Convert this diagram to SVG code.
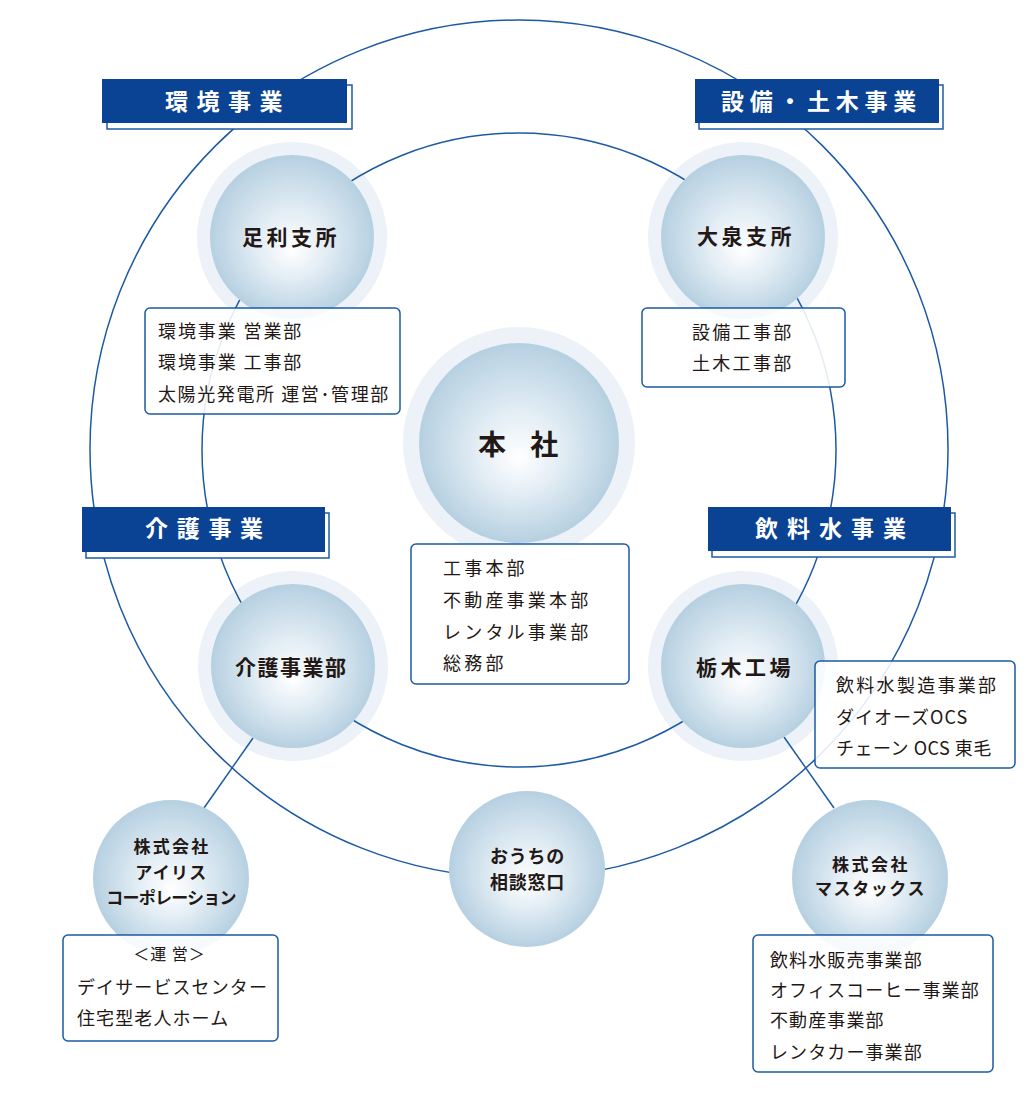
<svg xmlns="http://www.w3.org/2000/svg" width="1035" height="1100" viewBox="0 0 1035 1100">
<defs>
<radialGradient id="ball" cx="0.5" cy="0.5" r="0.5" fx="0.5" fy="0.58">
<stop offset="0" stop-color="#ffffff"/>
<stop offset="0.4" stop-color="#e4eef5"/>
<stop offset="1" stop-color="#b6d0e1"/>
</radialGradient>
<style>
.halo{fill:#ecf2f8}
.ball{fill:url(#ball)}
.conn{fill:none;stroke:#1d5aa5;stroke-width:1.5}
.box{fill:#ffffff;fill-opacity:0.88;stroke:#1d5aa5;stroke-width:1.5}
.tabbg{fill:#ffffff;stroke:#1d5aa5;stroke-width:1.5}
.tab{fill:#0b4394}
.tabt{font-family:"Noto Sans CJK JP","Noto Sans",sans-serif;font-size:23px;font-weight:700;fill:#ffffff}
.nt{font-family:"Noto Sans CJK JP","Noto Sans",sans-serif;font-size:21px;font-weight:700;fill:#231815}
.big{font-size:28px}
.st{font-family:"Noto Sans CJK JP","Noto Sans",sans-serif;font-size:17px;font-weight:700;fill:#231815}
.st18{font-size:18px}
.bt{font-family:"Noto Sans CJK JP","Noto Sans",sans-serif;font-size:18px;font-weight:400;fill:#231815}
.bt16{font-size:16px}
</style>
</defs>
<rect width="1035" height="1100" fill="#ffffff"/>

<g id="halos">
<circle class="halo" cx="292" cy="237" r="95"/>
<circle class="halo" cx="743" cy="237" r="95"/>
<circle class="halo" cx="519" cy="443" r="116"/>
<circle class="halo" cx="293" cy="666" r="95"/>
<circle class="halo" cx="743" cy="666" r="95"/>
</g>

<g id="connectors">
<circle class="conn" cx="519" cy="449" r="429"/>
<circle class="conn" cx="519" cy="450" r="317"/>
<line class="conn" x1="253" y1="738" x2="204" y2="808"/>
<line class="conn" x1="784" y1="737" x2="834" y2="808"/>
</g>

<g id="node-ashikaga">
<circle class="ball" cx="292" cy="237" r="82"/>
<text class="nt" x="242" y="244.5" letter-spacing="3.5">足利支所</text>
<rect class="box" x="145" y="308" width="255" height="106" rx="5"/>
<text class="bt" x="158" y="337.5" letter-spacing="1.9">環境事業 営業部</text>
<text class="bt" x="158" y="368.5" letter-spacing="1.9">環境事業 工事部</text>
<text class="bt" x="158" y="400.5" letter-spacing="1.6">太陽光発電所 運営･管理部</text>
</g>

<g id="node-oizumi">
<circle class="ball" cx="743" cy="237" r="82"/>
<text class="nt" x="697" y="244" letter-spacing="3.5">大泉支所</text>
<rect class="box" x="642" y="308" width="203" height="79" rx="5"/>
<text class="bt" x="692" y="338.5" letter-spacing="2.3">設備工事部</text>
<text class="bt" x="692" y="369.5" letter-spacing="2.3">土木工事部</text>
</g>

<g id="node-honsha">
<circle class="ball" cx="519" cy="443" r="100"/>
<text class="nt big" x="478" y="455" letter-spacing="9">本 社</text>
<rect class="box" x="411" y="544" width="218" height="140" rx="5"/>
<text class="bt" x="443" y="574.5" letter-spacing="3.2">工事本部</text>
<text class="bt" x="443" y="607" letter-spacing="3.2">不動産事業本部</text>
<text class="bt" x="443" y="638.5" letter-spacing="3.2">レンタル事業部</text>
<text class="bt" x="443" y="669.5" letter-spacing="3.2">総務部</text>
</g>

<g id="node-kaigo">
<circle class="ball" cx="293" cy="666" r="82"/>
<text class="nt" x="235" y="674.5" letter-spacing="1.5">介護事業部</text>
</g>

<g id="node-tochigi">
<circle class="ball" cx="743" cy="666" r="82"/>
<text class="nt" x="696" y="674.5" letter-spacing="3.5">栃木工場</text>
<rect class="box" x="815" y="661" width="200" height="107" rx="5"/>
<text class="bt" x="836" y="691.5" letter-spacing="2.3">飲料水製造事業部</text>
<text class="bt" x="836" y="723.5" letter-spacing="1">ダイオーズOCS</text>
<text class="bt" x="836" y="754.5" letter-spacing="0.5">チェーン OCS 東毛</text>
</g>

<g id="node-iris">
<circle class="ball" cx="171" cy="878" r="78"/>
<text class="st" x="172" y="853" text-anchor="middle" letter-spacing="2.3">株式会社</text>
<text class="st" x="171.5" y="879" text-anchor="middle" letter-spacing="1.3">アイリス</text>
<text class="st" x="171" y="904" text-anchor="middle" letter-spacing="-0.8">コーポレーション</text>
<rect class="box" x="63" y="935" width="215" height="106" rx="5"/>
<text class="bt bt16" x="169.5" y="959.5" text-anchor="middle" letter-spacing="1">＜運 営＞</text>
<text class="bt" x="77" y="993.5" letter-spacing="1.1">デイサービスセンター</text>
<text class="bt" x="77" y="1024.5" letter-spacing="1.1">住宅型老人ホーム</text>
</g>

<g id="node-ouchi">
<circle class="ball" cx="527" cy="869" r="78"/>
<text class="st st18" x="527.5" y="863" text-anchor="middle" letter-spacing="0.7">おうちの</text>
<text class="st st18" x="527.5" y="889" text-anchor="middle" letter-spacing="0.7">相談窓口</text>
</g>

<g id="node-mastax">
<circle class="ball" cx="870" cy="878" r="78"/>
<text class="st" x="871" y="871" text-anchor="middle" letter-spacing="2.5">株式会社</text>
<text class="st" x="870.5" y="894.5" text-anchor="middle" letter-spacing="1.6">マスタックス</text>
<rect class="box" x="753" y="935" width="240" height="137" rx="5"/>
<text class="bt" x="770" y="966.5" letter-spacing="1.1">飲料水販売事業部</text>
<text class="bt" x="770" y="997" letter-spacing="1.1">オフィスコーヒー事業部</text>
<text class="bt" x="770" y="1027" letter-spacing="1.1">不動産事業部</text>
<text class="bt" x="770" y="1058.5" letter-spacing="1.1">レンタカー事業部</text>
</g>

<g id="tab-kankyo">
<rect class="tabbg" x="107" y="85" width="245" height="44"/>
<rect class="tab" x="102" y="79" width="245" height="44"/>
<text class="tabt" x="165" y="110" letter-spacing="8.5">環境事業</text>
</g>

<g id="tab-setsubi">
<rect class="tabbg" x="699" y="85" width="244" height="44"/>
<rect class="tab" x="695" y="79" width="244" height="44"/>
<text class="tabt" x="721" y="110" letter-spacing="5.7">設備・土木事業</text>
</g>

<g id="tab-kaigo">
<rect class="tabbg" x="86" y="513" width="243" height="45"/>
<rect class="tab" x="82" y="507" width="243" height="45"/>
<text class="tabt" x="145" y="537" letter-spacing="8.7">介護事業</text>
</g>

<g id="tab-inryo">
<rect class="tabbg" x="712" y="513" width="243" height="44"/>
<rect class="tab" x="708" y="507" width="243" height="44"/>
<text class="tabt" x="755" y="537" letter-spacing="9">飲料水事業</text>
</g>
</svg>
